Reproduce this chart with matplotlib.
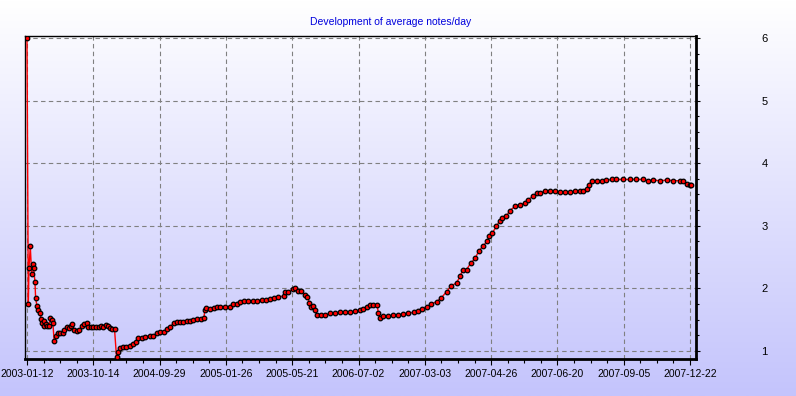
import numpy as np
import matplotlib
matplotlib.use("Agg")
import matplotlib.pyplot as plt
from matplotlib.ticker import MultipleLocator, FixedLocator, FixedFormatter

# ---- data (entry index, average notes/day) ----
entry_idx = [0, 2, 3, 5, 7, 9, 10, 12, 13, 15, 17, 20, 21, 23, 25, 26, 28, 30, 33,
             35, 37, 39, 41, 44, 47, 50, 54, 56, 60, 63, 66, 68, 71, 75, 79, 83, 86, 90, 92,
             96, 100, 104, 108, 112, 115, 119, 122, 125, 128, 132, 135, 137, 140, 145, 150,
             155, 160, 165, 168, 173, 178, 185, 190, 196, 201, 206, 211, 216, 221, 226, 231,
             236, 241, 246, 251, 257, 263, 267, 268, 270, 276, 282, 287, 291, 299, 306, 311,
             316, 321, 327, 334, 341, 347, 354, 360, 366, 372, 379, 387, 389, 394, 401, 404,
             409, 414, 419, 423, 426, 428, 432, 434, 437, 443, 449, 457, 464, 472, 480, 487,
             495, 502, 507, 513, 517, 522, 528, 530, 532, 537, 545, 552, 560, 567, 575, 583,
             589, 595, 603, 610, 618, 625, 633, 640, 648, 653, 657, 663, 669, 676, 681, 688,
             694, 697, 702, 708, 713, 717, 723, 728, 736, 743, 751, 756, 763, 769, 774, 781,
             789, 796, 804, 811, 819, 826, 834, 839, 844, 847, 852, 859, 867, 874, 882, 889,
             899, 909, 919, 929, 937, 944, 955, 965, 975, 985, 990, 995, 1000, 1002]
avg_notes = [6.00, 1.75, 2.33, 2.67, 2.23, 2.39, 2.32, 2.11, 1.85, 1.72, 1.65, 1.60, 1.51,
             1.44, 1.48, 1.40, 1.43, 1.40, 1.40, 1.53, 1.50, 1.45, 1.16, 1.24, 1.28, 1.29, 1.29,
             1.34, 1.39, 1.36, 1.40, 1.43, 1.34, 1.32, 1.33, 1.40, 1.43, 1.44, 1.39, 1.39, 1.39,
             1.39, 1.38, 1.40, 1.38, 1.41, 1.40, 1.36, 1.35, 1.35, 0.91, 0.98, 1.04, 1.06, 1.07,
             1.08, 1.11, 1.15, 1.20, 1.21, 1.23, 1.24, 1.24, 1.29, 1.30, 1.31, 1.35, 1.39, 1.44,
             1.46, 1.47, 1.47, 1.48, 1.48, 1.50, 1.51, 1.51, 1.53, 1.65, 1.68, 1.67, 1.68, 1.70,
             1.71, 1.71, 1.71, 1.75, 1.75, 1.78, 1.80, 1.80, 1.80, 1.80, 1.82, 1.82, 1.83, 1.85,
             1.86, 1.88, 1.94, 1.95, 1.99, 2.00, 1.96, 1.96, 1.89, 1.86, 1.77, 1.70, 1.72, 1.65,
             1.58, 1.58, 1.58, 1.60, 1.61, 1.62, 1.62, 1.62, 1.64, 1.65, 1.67, 1.70, 1.73, 1.74,
             1.74, 1.60, 1.53, 1.56, 1.56, 1.57, 1.58, 1.59, 1.60, 1.62, 1.64, 1.67, 1.71, 1.75,
             1.79, 1.85, 1.95, 2.04, 2.09, 2.19, 2.29, 2.30, 2.40, 2.48, 2.59, 2.68, 2.75, 2.83,
             2.89, 2.99, 3.08, 3.12, 3.15, 3.24, 3.31, 3.34, 3.36, 3.42, 3.47, 3.52, 3.53, 3.55,
             3.55, 3.55, 3.54, 3.54, 3.54, 3.55, 3.55, 3.56, 3.58, 3.65, 3.72, 3.72, 3.72, 3.73,
             3.74, 3.74, 3.74, 3.74, 3.74, 3.74, 3.72, 3.73, 3.72, 3.73, 3.72, 3.72, 3.71, 3.67,
             3.65, 3.65]

tick_positions = [0, 100, 200, 300, 400, 500, 600, 700, 800, 900, 1000]
tick_labels = ["2003-01-12", "2003-10-14", "2004-09-29", "2005-01-26", "2005-05-21",
               "2006-07-02", "2007-03-03", "2007-04-26", "2007-06-20", "2007-09-05",
               "2007-12-22"]
y_ticks = [1, 2, 3, 4, 5, 6]

title = "Development of average notes/day"

plt.rcParams['font.family'] = ['Liberation Sans', 'DejaVu Sans']

W, H = 796, 396
fig = plt.figure(figsize=(W / 100, H / 100), dpi=100)

# background gradient
bg = fig.add_axes([0, 0, 1, 1], zorder=-10)
grad = np.linspace(0, 1, 256)[:, None]
top = np.array([1.0, 1.0, 1.0])
bot = np.array([196, 196, 252]) / 255.0
img = top[None, None, :] * (1 - grad[:, :, None]) + bot[None, None, :] * grad[:, :, None]
bg.imshow(img, aspect='auto', extent=[0, 1, 0, 1])
bg.set_axis_off()

L, R, T, B = 25, 696, 36, 359
ax = fig.add_axes([L / W, (H - B) / H, (R - L) / W, (B - T) / H])
ax.patch.set_alpha(0)

ax.plot(entry_idx, avg_notes, color='red', lw=1.0, zorder=3,
        marker='o', markersize=3.3, markerfacecolor='red',
        markeredgecolor='black', markeredgewidth=0.9)

ax.set_xlim(-3, 1009)
ax.set_ylim(0.872, 6.032)

ax.xaxis.set_major_locator(FixedLocator(tick_positions))
ax.xaxis.set_major_formatter(FixedFormatter(tick_labels))
ax.xaxis.set_minor_locator(MultipleLocator(25))
ax.yaxis.set_major_locator(FixedLocator(y_ticks))
ax.yaxis.set_minor_locator(MultipleLocator(0.25))
ax.yaxis.tick_right()

ax.tick_params(axis='x', which='major', length=4, width=0.8, labelsize=7.5, pad=3, colors='black')
ax.tick_params(axis='x', which='minor', length=3, width=0.8)
ax.tick_params(axis='y', which='major', length=3, width=0.8, labelsize=8, pad=44)
ax.tick_params(axis='y', which='minor', length=2, width=0.8)

ax.grid(True, which='major', color='#808080', linestyle=(0, (4, 3)), linewidth=0.8, zorder=1)
ax.set_axisbelow(True)

for side, lw in [('left', 1.0), ('top', 1.0), ('right', 2.0), ('bottom', 2.0)]:
    ax.spines[side].set_color('black')
    ax.spines[side].set_linewidth(lw)

fig.text(391 / W, 1 - 22 / H, title, color='#0000dd', fontsize=7.5,
         ha='center', va='center')

fig.savefig("out.png", dpi=100)
